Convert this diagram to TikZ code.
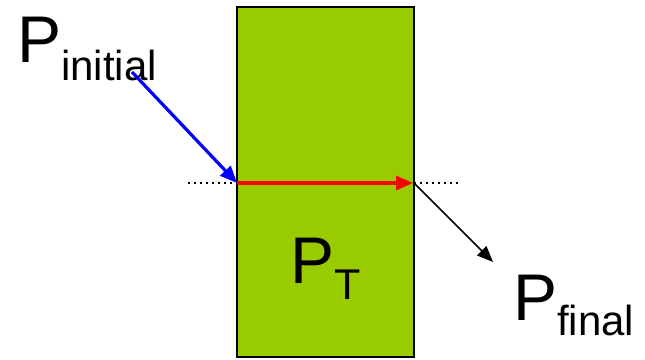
\documentclass[tikz,border=0pt]{standalone}
\usepackage{fontspec}
\setmainfont{Liberation Sans}
\usepackage{xcolor}
\usetikzlibrary{arrows.meta,positioning,calc}
\definecolor{slabgreen}{HTML}{99CC00}
\newcommand{\bigP}[3]{{\fontsize{66}{66}\selectfont P}\raisebox{-#2pt}{\fontsize{#3}{#3}\selectfont #1}}

\begin{document}
\begin{tikzpicture}[x=1pt,y=-1pt,>=Latex,
  lbl/.style={inner sep=0pt,anchor=base west},
  ray/.style={line width=3.2pt,-{Triangle[length=17pt,width=14pt]}},
  guide/.style={line width=2pt,dash pattern=on 2pt off 4pt}]
 \useasboundingbox (0,0) rectangle (645,359);
 \node[draw,line width=2pt,fill=slabgreen,minimum width=177pt,minimum height=350pt,inner sep=0pt] (slab) at (325.5,182) {};
 \coordinate (in) at (237,183); \coordinate (out) at (414,183);
 \coordinate (src) at (132,72); \coordinate (dst) at (493,262);
 \coordinate (dl) at (188,183); \coordinate (dr) at (458,183);
 \node[lbl] (pi) at (17,62) {\bigP{initial}{18}{42}};
 \node[lbl] (pt) at (290,283) {\bigP{T}{16}{43}};
 \node[lbl] (pf) at (513,320) {\bigP{final}{15}{42}};
 \draw[guide] (dl)--(in); \draw[guide] (out)--(dr);
 \draw[ray,blue] (src)--(in);
 \draw[ray,red,shorten >=1pt] (in)--(out);
 \draw[line width=1.6pt,-{Triangle[length=16pt,width=13pt]}] (out)--(dst);
\end{tikzpicture}
\end{document}
